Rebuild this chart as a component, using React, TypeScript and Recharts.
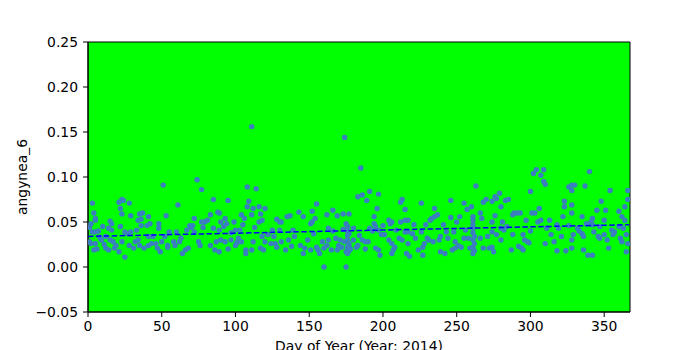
import { CartesianGrid, ReferenceArea, Scatter, ScatterChart, XAxis, YAxis } from 'recharts';

const FONT = '"DejaVu Sans", sans-serif';
const POINT = '#3a7fc0';
const BG = '#00ff00';

// days / values, one block per quarter of the year
const daysQ1 = [
  3, 4, 5, 5, 2, 3, 5, 7, 2, 5,
  4, 6, 12, 12, 14, 15, 16, 14, 16, 15,
  17, 18, 19, 21, 23, 24, 22, 23, 22, 25,
  23, 21, 25, 28, 29, 27, 29, 28, 31, 33,
  32, 34, 35, 37, 34, 36, 36, 35, 38, 40,
  42, 41, 41, 41, 43, 44, 46, 48, 48, 47,
  49, 51, 53, 52, 50, 54, 55, 54, 58, 59,
  60, 61, 62, 63, 64, 66, 67, 68, 69, 70,
  71, 72, 72, 74, 75, 76, 77, 77, 78, 79,
  80, 81, 83, 83, 85, 85, 86, 87, 88, 89,
  90, 89, 90, 89, 9, 10, 11, 8, 1, 1,
];
const valuesQ1 = [
  0.071, 0.06, 0.054, 0.052, 0.048, 0.039, 0.039, 0.04, 0.026, 0.026,
  0.019, 0.02, 0.034, 0.021, 0.019, 0.051, 0.048, 0.043, 0.041, 0.03,
  0.028, 0.021, 0.024, 0.072, 0.075, 0.074, 0.065, 0.059, 0.045, 0.039,
  0.028, 0.017, 0.011, 0.071, 0.057, 0.037, 0.039, 0.024, 0.021, 0.041,
  0.028, 0.03, 0.059, 0.06, 0.052, 0.053, 0.046, 0.024, 0.021, 0.046,
  0.048, 0.056, 0.034, 0.024, 0.026, 0.034, 0.026, 0.048, 0.043, 0.021,
  0.017, 0.091, 0.057, 0.034, 0.028, 0.024, 0.039, 0.022, 0.028, 0.024,
  0.039, 0.069, 0.028, 0.032, 0.015, 0.019, 0.041, 0.021, 0.046, 0.044,
  0.046, 0.054, 0.039, 0.097, 0.028, 0.024, 0.086, 0.05, 0.044, 0.05,
  0.051, 0.052, 0.058, 0.024, 0.075, 0.043, 0.019, 0.028, 0.061, 0.06,
  0.05, 0.041, 0.03, 0.017, 0.03, 0.045, 0.025, 0.033, 0.044, 0.028,
];

const daysQ2 = [
  93, 94, 92, 93, 95, 95, 99, 100, 97, 100,
  102, 104, 106, 105, 103, 104, 107, 108, 109, 108,
  107, 111, 112, 112, 111, 111, 114, 116, 117, 116,
  118, 120, 118, 117, 120, 119, 122, 125, 126, 128,
  130, 131, 130, 128, 127, 131, 134, 135, 137, 136,
  139, 140, 138, 143, 144, 146, 146, 147, 149, 151,
  152, 152, 151, 153, 154, 155, 155, 156, 157, 159,
  160, 160, 162, 163, 163, 162, 165, 166, 166, 168,
  169, 170, 169, 171, 173, 173, 172, 174, 174, 175,
  175, 177, 177, 177, 178, 175, 180, 180, 176, 176,
  176, 176, 177, 176, 177, 176, 97, 101, 113, 124,
];
const valuesQ2 = [
  0.054, 0.048, 0.045, 0.028, 0.02, 0.074, 0.05, 0.041, 0.03, 0.024,
  0.032, 0.058, 0.054, 0.047, 0.041, 0.028, 0.019, 0.089, 0.073, 0.067,
  0.015, 0.058, 0.065, 0.028, 0.019, 0.156, 0.087, 0.067, 0.059, 0.05,
  0.052, 0.065, 0.034, 0.021, 0.028, 0.019, 0.036, 0.041, 0.034, 0.053,
  0.05, 0.05, 0.041, 0.022, 0.026, 0.028, 0.019, 0.056, 0.057, 0.03,
  0.041, 0.034, 0.023, 0.061, 0.024, 0.056, 0.015, 0.021, 0.03, 0.048,
  0.05, 0.062, 0.019, 0.037, 0.054, 0.07, 0.022, 0.019, 0.015, 0.028,
  0.021, 0.0, 0.058, 0.043, 0.03, 0.024, 0.019, 0.063, 0.04, 0.032,
  0.057, 0.024, 0.019, 0.03, 0.059, 0.042, 0.022, 0.028, 0.144, 0.0,
  0.048, 0.037, 0.059, 0.024, 0.02, 0.017, 0.043, 0.03, 0.045, 0.04,
  0.035, 0.03, 0.026, 0.022, 0.018, 0.015, 0.038, 0.027, 0.044, 0.026,
];

const daysQ3 = [
  185, 183, 186, 189, 191, 197, 196, 194, 194, 195,
  197, 193, 191, 186, 188, 190, 183, 182, 188, 195,
  197, 198, 199, 201, 204, 205, 206, 204, 206, 207,
  206, 208, 209, 212, 213, 212, 211, 213, 215, 215,
  217, 215, 217, 217, 216, 218, 221, 220, 222, 224,
  226, 226, 227, 227, 229, 230, 231, 232, 233, 234,
  235, 235, 237, 238, 239, 239, 241, 242, 243, 244,
  246, 246, 247, 248, 249, 249, 250, 251, 252, 253,
  255, 255, 256, 257, 258, 259, 260, 261, 261, 261,
  261, 261, 262, 261, 262, 261, 262, 261, 263, 266,
  267, 266, 268, 268, 270, 271, 272, 184, 200, 228,
];
const valuesQ3 = [
  0.11, 0.078, 0.08, 0.074, 0.084, 0.081, 0.065, 0.056, 0.048, 0.045,
  0.041, 0.04, 0.043, 0.03, 0.028, 0.028, 0.024, 0.022, 0.02, 0.021,
  0.019, 0.013, 0.036, 0.036, 0.052, 0.048, 0.05, 0.03, 0.026, 0.019,
  0.015, 0.022, 0.041, 0.072, 0.075, 0.05, 0.032, 0.03, 0.064, 0.052,
  0.052, 0.039, 0.039, 0.026, 0.015, 0.012, 0.047, 0.037, 0.032, 0.019,
  0.071, 0.039, 0.022, 0.013, 0.047, 0.032, 0.03, 0.052, 0.054, 0.028,
  0.065, 0.056, 0.058, 0.03, 0.017, 0.034, 0.047, 0.015, 0.039, 0.032,
  0.074, 0.055, 0.019, 0.039, 0.028, 0.021, 0.05, 0.024, 0.056, 0.022,
  0.071, 0.032, 0.041, 0.064, 0.032, 0.021, 0.067, 0.056, 0.052, 0.047,
  0.043, 0.038, 0.034, 0.03, 0.026, 0.022, 0.018, 0.015, 0.09, 0.06,
  0.054, 0.032, 0.072, 0.021, 0.075, 0.034, 0.021, 0.035, 0.046, 0.026,
];

const daysQ4 = [
  274, 274, 274, 274, 275, 276, 279, 277, 276, 280,
  281, 280, 282, 277, 280, 283, 285, 288, 289, 291,
  293, 287, 288, 292, 294, 295, 295, 296, 297, 298,
  299, 300, 301, 303, 302, 304, 307, 309, 309, 310,
  306, 305, 307, 310, 311, 313, 314, 318, 318, 319,
  321, 323, 323, 322, 324, 326, 328, 330, 328, 328,
  328, 328, 329, 328, 332, 333, 335, 335, 336, 336,
  337, 339, 340, 341, 342, 342, 342, 343, 345, 346,
  347, 348, 347, 350, 351, 350, 353, 354, 355, 356,
  357, 360, 360, 361, 362, 362, 363, 364, 364, 365,
  366, 366, 366, 365, 284, 300, 316, 326, 338, 352,
];
const valuesQ4 = [
  0.073, 0.05, 0.039, 0.022, 0.017, 0.078, 0.082, 0.076, 0.057, 0.067,
  0.05, 0.043, 0.041, 0.036, 0.03, 0.074, 0.075, 0.058, 0.06, 0.06,
  0.06, 0.019, 0.036, 0.023, 0.021, 0.019, 0.036, 0.03, 0.052, 0.028,
  0.027, 0.084, 0.06, 0.06, 0.104, 0.108, 0.102, 0.108, 0.095, 0.092,
  0.065, 0.05, 0.052, 0.026, 0.043, 0.052, 0.036, 0.047, 0.018, 0.043,
  0.034, 0.073, 0.067, 0.056, 0.018, 0.089, 0.091, 0.091, 0.085, 0.069,
  0.06, 0.03, 0.036, 0.021, 0.043, 0.04, 0.056, 0.037, 0.034, 0.019,
  0.09, 0.013, 0.106, 0.05, 0.054, 0.047, 0.013, 0.039, 0.063, 0.034,
  0.032, 0.073, 0.045, 0.036, 0.063, 0.052, 0.021, 0.085, 0.041, 0.036,
  0.039, 0.062, 0.045, 0.032, 0.056, 0.028, 0.043, 0.067, 0.052, 0.036,
  0.026, 0.075, 0.085, 0.017, 0.045, 0.04, 0.028, 0.046, 0.048, 0.03,
];

const trendDays = [0, 367];
const trendValues = [0.034, 0.047];

const xTicks = [0, 50, 100, 150, 200, 250, 300, 350];
const yTicks = [-0.05, 0, 0.05, 0.1, 0.15, 0.2, 0.25];

const allDays = [...daysQ1, ...daysQ2, ...daysQ3, ...daysQ4];
const allValues = [...valuesQ1, ...valuesQ2, ...valuesQ3, ...valuesQ4];
const points = allDays.map((d, i) => ({ day: d, value: allValues[i] }));
const trend = trendDays.map((d, i) => ({ day: d, value: trendValues[i] }));

const fmtY = (v: number) => (v < 0 ? '\u2212' + Math.abs(v).toFixed(2) : v.toFixed(2));

const Dot = (p: any) => <circle cx={p.cx} cy={p.cy} r={2.7} fill={POINT} />;
const NoDot = () => <g />;

const XTitle = (p: any) => {
  const vb = p.viewBox;
  return (
    <text x={vb.x + vb.width / 2} y={351} textAnchor="middle" fontFamily={FONT} fontSize={13.9} fill="#000">
      Day of Year (Year: 2014)
    </text>
  );
};

const YTitle = (p: any) => {
  const vb = p.viewBox;
  const cy = vb.y + vb.height / 2;
  return (
    <text x={27} y={cy} transform={`rotate(-90 27 ${cy})`} textAnchor="middle" fontFamily={FONT} fontSize={13.9} fill="#000">
      angynea_6
    </text>
  );
};

const tickStyle = { fill: '#000', fontSize: 13.9, fontFamily: FONT };

export default function App() {
  return (
    <div style={{ position: 'absolute', left: 0, top: 0, width: 700, height: 350, background: '#fff' }}>
      <ScatterChart width={700} height={350} margin={{ top: 42, right: 70, bottom: 8, left: 0 }}>
        <CartesianGrid fill={BG} fillOpacity={1} horizontal={false} vertical={false} />
        <XAxis
          dataKey="day"
          type="number"
          domain={[0, 367.5]}
          ticks={xTicks}
          allowDataOverflow
          height={30}
          tick={tickStyle}
          tickSize={5}
          tickMargin={4}
          tickLine={{ stroke: '#000' }}
          axisLine={{ stroke: '#000' }}
          label={{ content: XTitle }}
        />
        <YAxis
          dataKey="value"
          type="number"
          domain={[-0.05, 0.25]}
          ticks={yTicks}
          allowDataOverflow
          width={88}
          tick={tickStyle}
          tickFormatter={fmtY}
          tickSize={5}
          tickMargin={5}
          tickLine={{ stroke: '#000' }}
          axisLine={{ stroke: '#000' }}
          label={{ content: YTitle }}
        />
        <Scatter data={points} shape={Dot} isAnimationActive={false} />
        <Scatter
          data={trend}
          shape={NoDot}
          line={{ stroke: '#0000ff', strokeWidth: 1.5, strokeDasharray: '5.5 2.4' }}
          isAnimationActive={false}
        />
        <ReferenceArea x1={0} x2={367.5} y1={-0.05} y2={0.25} fill="none" stroke="#000" strokeWidth={1} />
      </ScatterChart>
    </div>
  );
}
